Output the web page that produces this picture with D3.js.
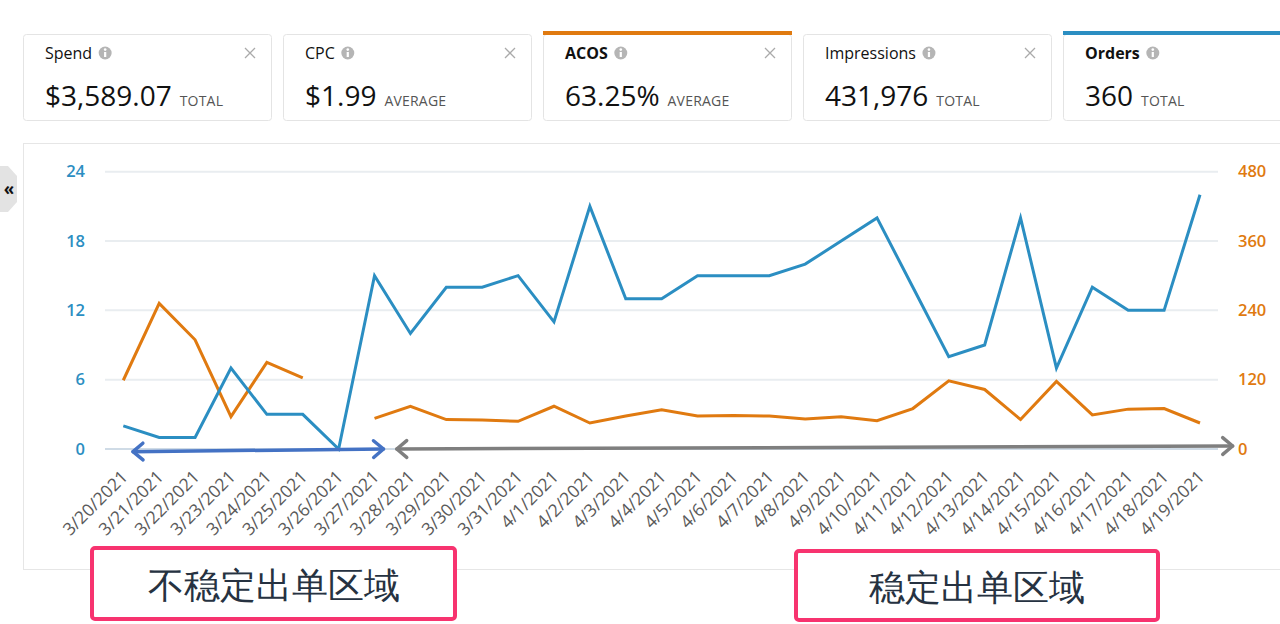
<!DOCTYPE html>
<html>
<head>
<meta charset="utf-8">
<script src="https://cdn.jsdelivr.net/npm/d3@7"></script>
<style>
  html, body { margin: 0; padding: 0; background: #fff; }
  svg { display: block; }
  text { font-family: "Open Sans", "Noto Sans", sans-serif; }
</style>
</head>
<body>
<svg id="chart" width="1280" height="624"></svg>
<script>
// Daily campaign data, 3/20/2021 - 4/19/2021
const dates = [
  "3/20/2021","3/21/2021","3/22/2021","3/23/2021","3/24/2021","3/25/2021","3/26/2021",
  "3/27/2021","3/28/2021","3/29/2021","3/30/2021","3/31/2021","4/1/2021","4/2/2021",
  "4/3/2021","4/4/2021","4/5/2021","4/6/2021","4/7/2021","4/8/2021","4/9/2021",
  "4/10/2021","4/11/2021","4/12/2021","4/13/2021","4/14/2021","4/15/2021","4/16/2021",
  "4/17/2021","4/18/2021","4/19/2021"
];
const orders = [2,1,1,7,3,3,0, 15,10,14,14,15,11,21, 13,13,15,15,15,16,18, 20,14,8,9,20,7,14, 12,12,22];
// ACOS (%) – no value on a day without orders
const acos = [119,252,189,56,150,123,null, 53,74,51,50,48,74,45, 57,68,57,58,57,52,56, 49,70,118,103,51,117,59, 69,70,45];

const ordersTicks = [0,6,12,18,24];
const acosTicks = [0,120,240,360,480];

// Summary cards
const cardTitles = ["Spend","CPC","ACOS","Impressions","Orders"];
const cardValues = ["$3,589.07","$1.99","63.25%","431,976","360"];
const cardUnits  = ["TOTAL","AVERAGE","AVERAGE","TOTAL","TOTAL"];
const cardSelected = [null,null,"#e07a10",null,"#2b8ec2"];

// Region annotations
const regions = [
  { label: "不稳定出单区域", from: "3/20/2021", to: "3/27/2021", color: "#4472c4" },
  { label: "稳定出单区域",   from: "3/28/2021", to: "4/19/2021", color: "#7f7f7f" }
];

const BLUE = "#2b8ec2", ORANGE = "#e07a10", PINK = "#f7336f";
const svg = d3.select("#chart");

// ---- summary cards ----
const cardX = d3.scalePoint().domain(d3.range(5)).range([23, 1063]);
const cardW = 248;
const cards = svg.selectAll("g.card").data(cardTitles).join("g")
  .attr("class","card")
  .attr("transform",(d,i)=>`translate(${cardX(i)},34)`);
cards.append("rect")
  .attr("x",0.5).attr("y",0.5).attr("width",cardW).attr("height",86).attr("rx",3)
  .attr("fill","#fff").attr("stroke","#e4e4e4");
cards.filter((d,i)=>cardSelected[i]).append("rect")
  .attr("x",0).attr("y",-3).attr("width",cardW+1).attr("height",4)
  .attr("fill",(d,i)=>cardSelected[cardTitles.indexOf(d)]);
cards.append("text")
  .attr("x",22).attr("y",25)
  .attr("font-size",16).attr("fill","#111")
  .attr("font-weight",(d,i)=>cardSelected[i]?700:400)
  .text(d=>d);
cards.each(function(d,i){
  const g = d3.select(this);
  const w = g.select("text").node().getComputedTextLength();
  const ig = g.append("g").attr("transform",`translate(${22+w+13},19)`);
  ig.append("circle").attr("r",6.5).attr("fill","#b5b5b5");
  ig.append("rect").attr("x",-1.1).attr("y",-1).attr("width",2.2).attr("height",5).attr("fill","#fff");
  ig.append("circle").attr("cy",-3.4).attr("r",1.3).attr("fill","#fff");
  if (i < 4) {
    g.append("path").attr("d","M222,14 l10,10 M232,14 l-10,10")
      .attr("stroke","#aaa").attr("stroke-width",1.3);
  }
  const v = g.append("text").attr("x",22).attr("y",72)
    .attr("font-size",28).attr("fill","#111").text(cardValues[i]);
  const vw = v.node().getComputedTextLength();
  g.append("text").attr("x",22+vw+8).attr("y",72)
    .attr("font-size",14).attr("fill","#555").attr("letter-spacing",0.2)
    .text(cardUnits[i]);
});

// ---- chart panel ----
svg.append("rect").attr("x",23.5).attr("y",143.5).attr("width",1270).attr("height",426)
  .attr("fill","#fff").attr("stroke","#e6e6e6");

// side toggle tab
svg.append("path").attr("d","M0,166 L8,166 L17,176 L17,202 L8,212 L0,212 Z").attr("fill","#e3e3e3");
svg.append("text").attr("x",9).attr("y",195).attr("text-anchor","middle")
  .attr("font-size",17).attr("font-weight",700).attr("fill","#111").text("«");

const x = d3.scalePoint().domain(dates).range([123.3, 1200]);
const y = d3.scaleLinear().domain([0,24]).range([449,171.7]);
const y2 = d3.scaleLinear().domain([0,480]).range([449,171.7]);
const gridL = 105, gridR = 1218;

// gridlines
svg.append("g").selectAll("line").data(ordersTicks).join("line")
  .attr("x1",gridL).attr("x2",gridR)
  .attr("y1",d=>y(d)).attr("y2",d=>y(d))
  .attr("stroke",d=>d===0?"#cfdbe6":"#e9edf0").attr("stroke-width",2);

// left axis (orders)
const axL = svg.append("g").attr("transform",`translate(${gridL},0)`)
  .call(d3.axisLeft(y).tickValues(ordersTicks).tickSize(0).tickPadding(20));
axL.select(".domain").remove();
axL.selectAll("text").attr("font-size",16.5).attr("font-weight",600).attr("fill",BLUE)
  .attr("font-family","'Open Sans', sans-serif");

// right axis (ACOS)
const axR = svg.append("g").attr("transform",`translate(${gridR},0)`)
  .call(d3.axisRight(y2).tickValues(acosTicks).tickSize(0).tickPadding(20));
axR.select(".domain").remove();
axR.selectAll("text").attr("font-size",16.5).attr("font-weight",600).attr("fill",ORANGE)
  .attr("font-family","'Open Sans', sans-serif");

// bottom axis: rotated date labels
const axB = svg.append("g").attr("transform",`translate(0,${y(0)})`)
  .call(d3.axisBottom(x).tickSize(0).tickPadding(0));
axB.select(".domain").remove();
axB.selectAll("text")
  .attr("font-size",17.5).attr("fill","#5a5a5a")
  .attr("font-family","'Open Sans', sans-serif")
  .attr("text-anchor","end")
  .attr("dy",0)
  .attr("transform","translate(5,29) rotate(-45)");

// lines
const lineOrders = d3.line().x((d,i)=>x(dates[i])).y(d=>y(d));
const lineAcos = d3.line().defined(d=>d!=null).x((d,i)=>x(dates[i])).y(d=>y2(d));
svg.append("path").datum(acos).attr("d",lineAcos)
  .attr("fill","none").attr("stroke",ORANGE).attr("stroke-width",3).attr("stroke-linejoin","miter");
svg.append("path").datum(orders).attr("d",lineOrders)
  .attr("fill","none").attr("stroke",BLUE).attr("stroke-width",3).attr("stroke-linejoin","miter");

// region arrows along the baseline
function arrow(x1, y1, x2, y2, color) {
  const g = svg.append("g").attr("stroke",color).attr("stroke-width",3.5)
    .attr("fill","none").attr("stroke-linecap","round").attr("stroke-linejoin","round");
  g.append("line").attr("x1",x1).attr("y1",y1).attr("x2",x2).attr("y2",y2);
  const ang = Math.atan2(y2-y1, x2-x1), L = 13, spread = 0.7;
  const head = (px,py,a) => `M${px+L*Math.cos(a+spread)},${py+L*Math.sin(a+spread)} L${px},${py} L${px+L*Math.cos(a-spread)},${py+L*Math.sin(a-spread)}`;
  g.append("path").attr("d",head(x2,y2,ang+Math.PI));
  g.append("path").attr("d",head(x1,y1,ang));
}
const step = x.step();
arrow(x(regions[0].from)+0.27*step, y(0)+2.7, x(regions[0].to)+0.25*step, y(0), regions[0].color);
arrow(x(regions[1].from)-0.38*step, y(0), x(regions[1].to)+0.91*step, y(0)-3, regions[1].color);

// region label boxes
const boxes = [
  { x: 90, y: 546, w: 367, h: 75 },
  { x: 794, y: 549, w: 366, h: 73 }
];
regions.forEach((r,i) => {
  const b = boxes[i];
  svg.append("rect").attr("x",b.x+2).attr("y",b.y+2).attr("width",b.w-4).attr("height",b.h-4)
    .attr("rx",3).attr("fill","#fff").attr("stroke",PINK).attr("stroke-width",4);
  svg.append("text").attr("x",b.x+b.w/2).attr("y",b.y+b.h/2+1)
    .attr("text-anchor","middle").attr("dominant-baseline","central")
    .attr("font-family","'Noto Sans CJK SC', sans-serif").attr("font-weight",300)
    .attr("font-size",36).attr("fill","#263241").text(r.label);
});
</script>
</body>
</html>
